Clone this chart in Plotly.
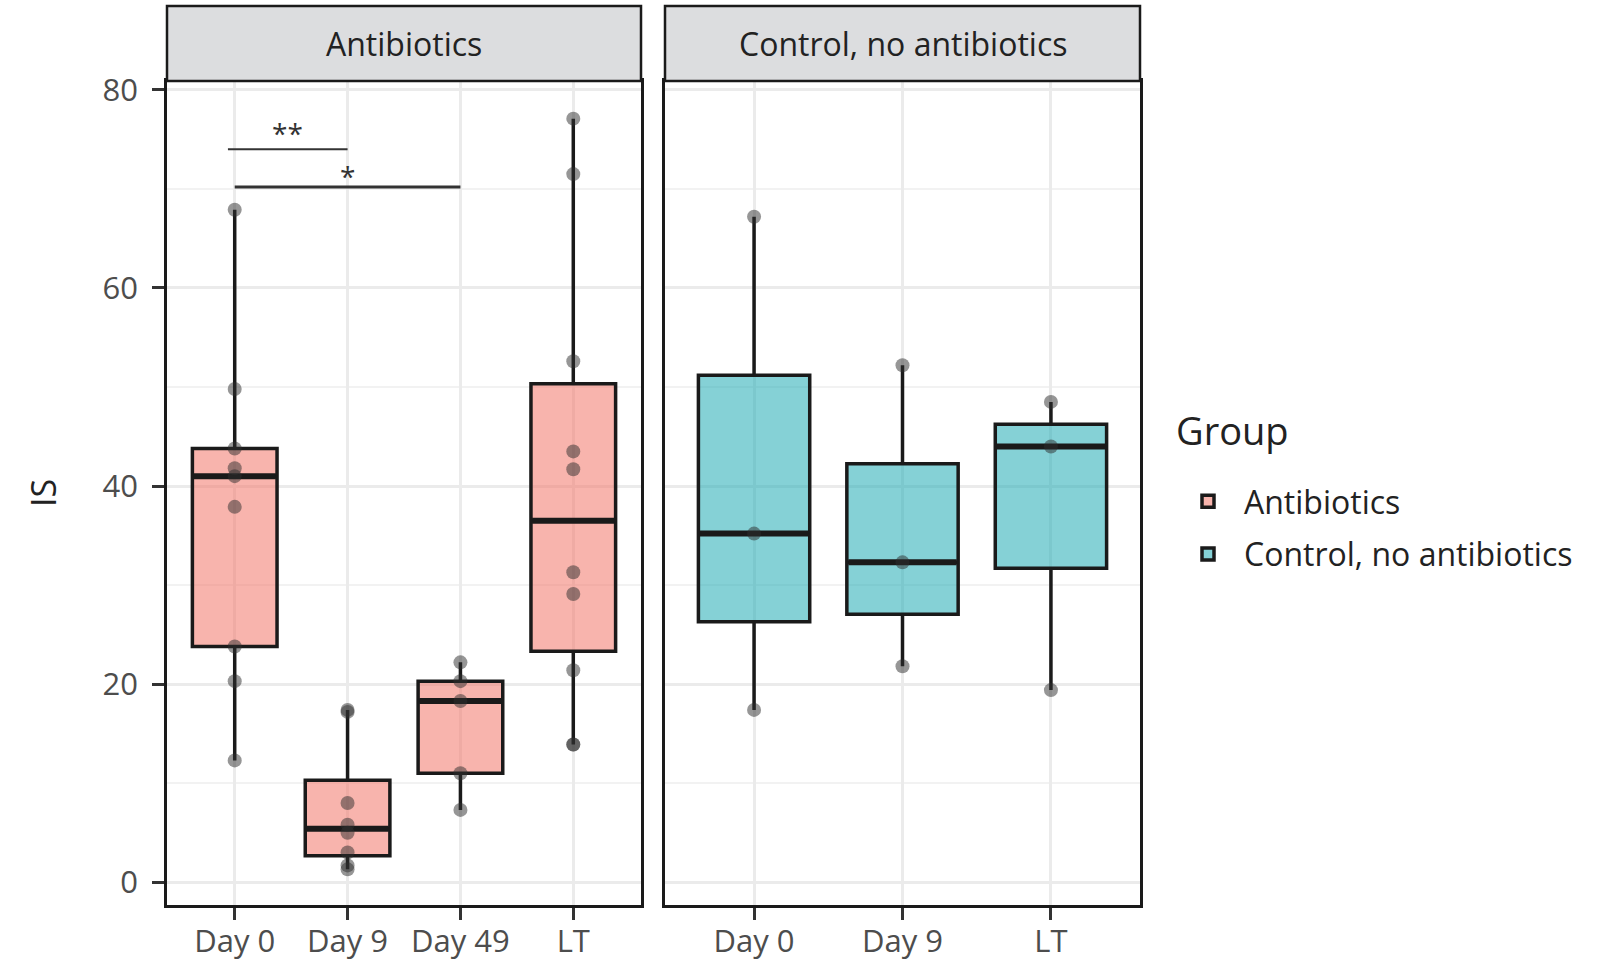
import numpy as np
import plotly.graph_objects as go

# ---------------- data ----------------
abx_categories = ["Day 0", "Day 9", "Day 49", "LT"]
ctrl_categories = ["Day 0", "Day 9", "LT"]

abx_day0 = [12.3, 20.3, 23.8, 37.9, 41.0, 41.8, 43.8, 49.8, 67.9]
abx_day9 = [1.3, 1.7, 3.0, 5.0, 5.8, 8.0, 17.2, 17.4]
abx_day49 = [7.3, 11.0, 18.3, 20.3, 22.2]
abx_lt = [13.9, 13.9, 21.4, 29.1, 31.3, 41.7, 43.5, 52.6, 71.5, 77.1]

ctrl_day0 = [17.4, 35.2, 67.2]
ctrl_day9 = [21.8, 32.3, 52.2]
ctrl_lt = [19.4, 44.0, 48.5]

abx_values = [abx_day0, abx_day9, abx_day49, abx_lt]
ctrl_values = [ctrl_day0, ctrl_day9, ctrl_lt]

# significance brackets (antibiotics panel): start/end category index, y, label
sig_start = [-0.06, 0.0]
sig_end = [1.0, 2.0]
sig_y = [74.0, 70.2]
sig_label = ["**", "*"]

group_names = ["Antibiotics", "Control, no antibiotics"]
fill_colors = ["rgba(242,119,106,0.55)", "rgba(33,171,180,0.55)"]

# ---------------- helpers ----------------
BOXW = 0.75
LINE = "#1a1a1a"
FONT = "Open Sans"
sig_line_widths = [2, 3]
sig_text_shift = [-5, -10]


def stats(vals):
    v = np.asarray(vals, dtype=float)
    q1, med, q3 = np.percentile(v, [25, 50, 75])
    iqr = q3 - q1
    lo = v[v >= q1 - 1.5 * iqr].min()
    hi = v[v <= q3 + 1.5 * iqr].max()
    return q1, med, q3, lo, hi


fig = go.Figure()

panels = [
    (abx_categories, abx_values, "x", "y", 0),
    (ctrl_categories, ctrl_values, "x2", "y2", 1),
]

for cats, vals, xa, ya, gi in panels:
    pos = list(range(len(cats)))
    st = [stats(v) for v in vals]
    fig.add_trace(go.Box(
        x=pos,
        q1=[s[0] for s in st], median=[s[1] for s in st], q3=[s[2] for s in st],
        lowerfence=[s[3] for s in st], upperfence=[s[4] for s in st],
        width=BOXW, whiskerwidth=0, boxpoints=False,
        fillcolor=fill_colors[gi], line=dict(color=LINE, width=3.5),
        name=group_names[gi], legendgroup=group_names[gi], showlegend=True,
        xaxis=xa, yaxis=ya, hoverinfo="skip",
    ))
    # thicker median bars
    mx, my = [], []
    for p, s in zip(pos, st):
        mx += [p - BOXW / 2 + 0.01, p + BOXW / 2 - 0.01, None]
        my += [s[1], s[1], None]
    fig.add_trace(go.Scatter(x=mx, y=my, mode="lines", line=dict(color=LINE, width=6),
                             showlegend=False, xaxis=xa, yaxis=ya, hoverinfo="skip"))
    # individual points
    px, py = [], []
    for p, v in zip(pos, vals):
        px += [p] * len(v)
        py += list(v)
    fig.add_trace(go.Scatter(x=px, y=py, mode="markers",
                             marker=dict(size=14, color="rgba(45,45,45,0.5)", line=dict(width=0)),
                             showlegend=False, xaxis=xa, yaxis=ya, hoverinfo="skip"))

# significance brackets
for s0, s1, yv, lab, w, sh in zip(sig_start, sig_end, sig_y, sig_label, sig_line_widths, sig_text_shift):
    fig.add_trace(go.Scatter(x=[s0, s1], y=[yv, yv], mode="lines",
                             line=dict(color="#333333", width=w),
                             showlegend=False, xaxis="x", yaxis="y", hoverinfo="skip"))
    fig.add_annotation(x=(s0 + s1) / 2, y=yv, xref="x", yref="y", text=lab,
                       showarrow=False, yanchor="bottom", yshift=sh,
                       font=dict(family=FONT, size=28, color="#333333"))

W, H = 1604, 967
ydom = [(H - 905) / H, (H - 81) / H]
xdom1 = [167 / W, 641 / W]
xdom2 = [665 / W, 1140 / W]
yrange = [-2.3, 80.9]

axis_common = dict(
    showline=True, mirror=True, linecolor=LINE, linewidth=2.5,
    showgrid=True, gridcolor="#EBEBEB", gridwidth=3, zeroline=False,
    ticklen=12, tickwidth=2.5, tickcolor="#333333", automargin=False,
    tickfont=dict(family=FONT, size=31, color="#4d4d4d"),
)
minor_grid = dict(dtick=10, tick0=0, showgrid=True, gridcolor="#F2F2F2", gridwidth=2, ticks="")

fig.update_layout(
    width=W, height=H,
    margin=dict(l=0, r=0, t=0, b=0, autoexpand=False),
    paper_bgcolor="white", plot_bgcolor="white",
    font=dict(family=FONT, color="#222222"),
    xaxis=dict(domain=xdom1, range=[-0.6, 3.6], tickvals=list(range(len(abx_categories))),
               ticktext=abx_categories, anchor="y", ticks="outside", ticklabelstandoff=-5, **axis_common),
    yaxis=dict(domain=ydom, range=yrange, tickvals=[0, 20, 40, 60, 80], anchor="x",
               ticks="outside", minor=minor_grid, ticklabelstandoff=8, **axis_common),
    xaxis2=dict(domain=xdom2, range=[-0.6, 2.6], tickvals=list(range(len(ctrl_categories))),
                ticktext=ctrl_categories, anchor="y2", ticks="outside", ticklabelstandoff=-5, **axis_common),
    yaxis2=dict(domain=ydom, range=yrange, tickvals=[0, 20, 40, 60, 80], anchor="x2",
                ticks="", minor=minor_grid, showticklabels=False, **axis_common),
    legend=dict(
        x=1172 / W, y=(H - 474) / H, xanchor="left", yanchor="top",
        font=dict(family=FONT, size=32, color="#222222"),
        bgcolor="rgba(0,0,0,0)", tracegroupgap=8, itemwidth=62,
    ),
)

# facet strips
strip_y0 = (H - 81) / H
strip_y1 = (H - 6) / H
for (x0, x1), label in zip([xdom1, xdom2], group_names):
    fig.add_shape(type="rect", xref="paper", yref="paper", x0=x0, x1=x1, y0=strip_y0, y1=strip_y1,
                  fillcolor="#DCDDDF", line=dict(color=LINE, width=2.5), layer="above")
    fig.add_annotation(xref="paper", yref="paper", x=(x0 + x1) / 2, y=(strip_y0 + strip_y1) / 2,
                       text=label, showarrow=False, xanchor="center", yanchor="middle",
                       font=dict(family=FONT, size=32, color="#222222"))

# legend title
fig.add_annotation(xref="paper", yref="paper", x=1174 / W, y=(H - 430) / H, text="Group",
                   showarrow=False, xanchor="left", yanchor="middle",
                   font=dict(family=FONT, size=38, color="#222222"))

# y axis title
fig.add_annotation(xref="paper", yref="paper", x=43 / W, y=(ydom[0] + ydom[1]) / 2, text="IS",
                   textangle=-90, showarrow=False, xanchor="center", yanchor="middle",
                   font=dict(family=FONT, size=34, color="#222222"))

fig.write_html("out.html", config={"displayModeBar": False},
               post_script="document.body.style.margin='0';")
